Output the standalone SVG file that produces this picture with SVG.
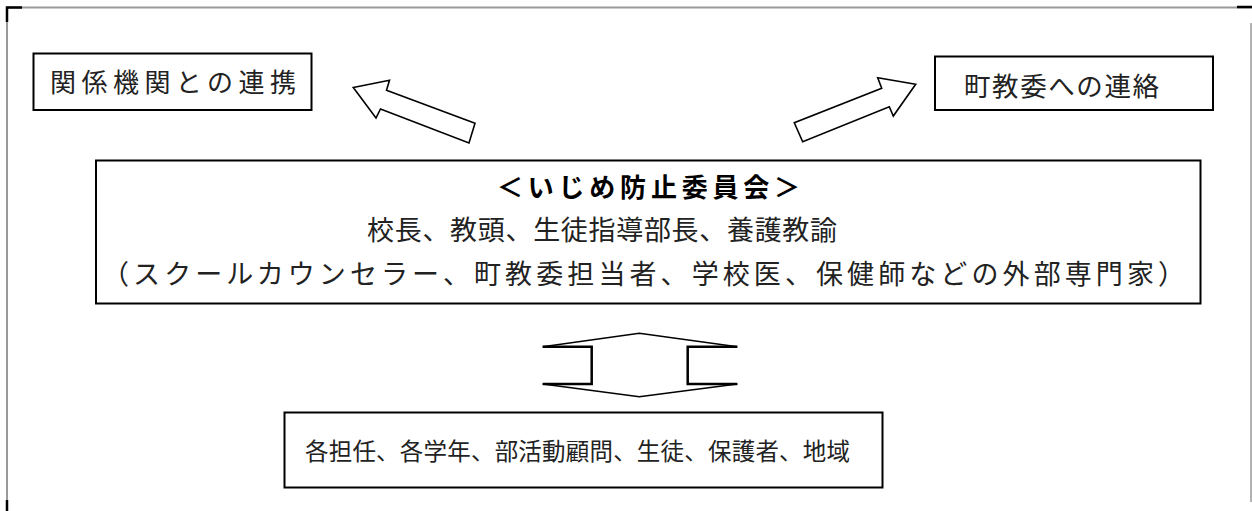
<svg xmlns="http://www.w3.org/2000/svg" width="1252" height="511" viewBox="0 0 1252 511">
<style>
.box{fill:#fff;stroke:#000;stroke-width:2}
.t{font-family:"Noto Sans CJK JP","Noto Sans CJK SC",sans-serif;fill:#222;dominant-baseline:central}
.h{font-weight:bold;fill:#000}
.arr{fill:#fff;stroke:#000;stroke-width:1.6;stroke-linejoin:miter}
.frame{stroke:#9a9a9a;stroke-width:2;fill:none}
.frameEnd{stroke:#000;stroke-width:2.5;fill:none}
</style>
<rect width="1252" height="511" fill="#fff"/>
<g id="frame">
<line class="frame" x1="7" y1="7.5" x2="1252" y2="7.5"/>
<line class="frame" x1="7" y1="7" x2="7" y2="511"/>
<line class="frame" x1="1251" y1="23" x2="1251" y2="502" style="stroke-width:1.5"/>
<polyline class="frameEnd" points="22,7.5 7,7.5 7,22"/>
<line class="frameEnd" x1="7" y1="500" x2="7" y2="511"/>
<line class="frameEnd" x1="1237" y1="7" x2="1252" y2="7"/>
</g>
<g id="connectors">
<polygon class="arr" points="353.3,87.5 389.5,80.3 386.5,90.3 475,123.3 469,143 380.5,109 376,118"/>
<polygon class="arr" points="915.7,84.3 877.7,77.7 881.7,88.3 794.3,122.7 802.7,141.7 889.3,106.7 893.3,116"/>
<g id="double-arrow" fill="none" stroke="#000">
<polyline points="542.7,346.7 639.3,333.3 737.3,346.7" stroke-width="1.5"/>
<polyline points="542.7,384 639.3,396.7 737.3,384" stroke-width="1.5"/>
<polyline points="542.7,346.7 591.7,346.7 591.7,384 542.7,384" stroke-width="2.5"/>
<polyline points="737.3,346.7 687.7,346.7 687.7,384 737.3,384" stroke-width="2.5"/>
</g>
</g>
<g id="node-kankei">
<rect class="box" x="33.5" y="53.5" width="278" height="56.5"/>
<text class="t" x="50" y="80.5" font-size="26" textLength="246" lengthAdjust="spacing">関係機関との連携</text>
</g>
<g id="node-choukyoui">
<rect class="box" x="935" y="56.5" width="278" height="53.5"/>
<text class="t" x="964" y="84" font-size="26.5" textLength="195" lengthAdjust="spacing">町教委への連絡</text>
</g>
<g id="node-iinkai">
<rect class="box" x="96" y="160.5" width="1104.5" height="143"/>
<text class="t h" x="497" y="185" font-size="26" textLength="303" lengthAdjust="spacing">＜いじめ防止委員会＞</text>
<text class="t" x="367" y="228" font-size="27" textLength="470" lengthAdjust="spacing">校長、教頭、生徒指導部長、養護教諭</text>
<text class="t" x="102" y="272" font-size="27" textLength="1083" lengthAdjust="spacing">（スクールカウンセラー、町教委担当者、学校医、保健師などの外部専門家）</text>
</g>
<g id="node-kaku">
<rect class="box" x="284.5" y="412.5" width="598" height="75"/>
<text class="t" x="305" y="450" font-size="23.5" textLength="545" lengthAdjust="spacing">各担任、各学年、部活動顧問、生徒、保護者、地域</text>
</g>
</svg>
